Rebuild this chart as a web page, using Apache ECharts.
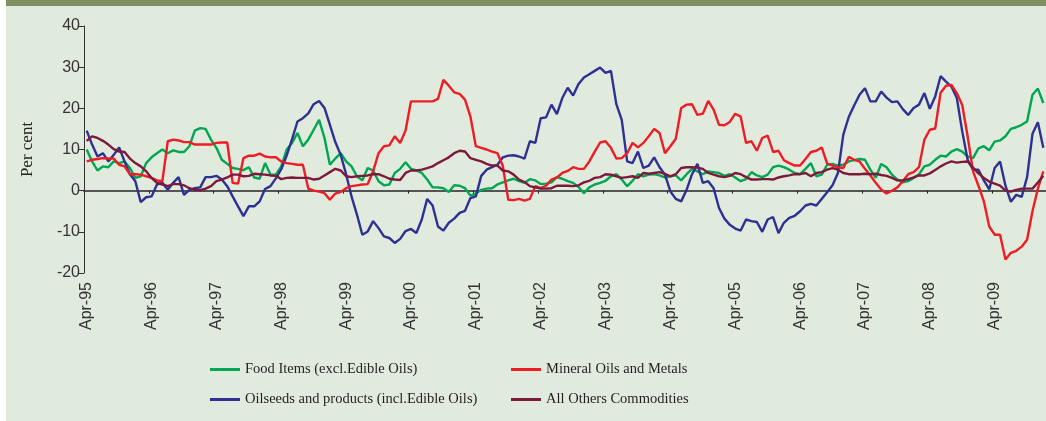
<!DOCTYPE html>
<html>
<head>
<meta charset="utf-8">
<script src="https://cdn.jsdelivr.net/npm/echarts@6/dist/echarts.min.js"></script>
<style>
  html, body { margin: 0; padding: 0; background: #fff; }
  #panel { position: absolute; left: 6px; top: 0; width: 1040px; height: 415px; background: #e0eadd; border-top: 6px solid #7f8f60; }
  #chart { position: absolute; left: 0; top: 0; width: 1046px; height: 421px; }
</style>
</head>
<body>
<div id="panel"></div>
<div id="chart"></div>
<script>
// months Apr-95 .. Jan-10
var monthNames = ['Jan', 'Feb', 'Mar', 'Apr', 'May', 'Jun', 'Jul', 'Aug', 'Sep', 'Oct', 'Nov', 'Dec'];
var categories = [];
for (var k = 0; k < 178; k++) {
  var m = (3 + k) % 12;
  var y = 1995 + Math.floor((3 + k) / 12);
  categories.push(monthNames[m] + '-' + String(y % 100).padStart(2, '0'));
}

var seriesNames = [
  'Food Items (excl.Edible Oils)',
  'Oilseeds and products (incl.Edible Oils)',
  'Mineral Oils and Metals',
  'All Others Commodities'
];

var foodItems = [
  10.0, 7.1, 4.9, 5.9, 5.7, 7.1, 6.7, 7.1, 5.5, 3.1,
  3.5, 6.7, 8.1, 9.1, 10.0, 9.1, 9.8, 9.4, 9.4, 10.8,
  14.6, 15.2, 15.0, 12.4, 10.4, 7.5, 6.5, 5.5, 5.3, 5.0,
  5.7, 3.2, 2.9, 6.7, 3.9, 3.9, 5.9, 10.0, 11.6, 14.0,
  10.8, 12.4, 14.8, 17.2, 12.8, 6.3, 7.8, 9.1, 7.1, 5.9,
  3.5, 2.5, 5.5, 4.9, 2.3, 1.3, 1.5, 4.3, 5.3, 6.9,
  5.3, 4.9, 4.3, 2.7, 0.8, 0.8, 0.6, -0.3, 1.3, 1.2,
  0.6, -1.2, -0.7, 0.2, 0.5, 0.6, 1.5, 2.0, 2.5, 2.9,
  2.3, 1.9, 2.8, 2.5, 1.6, 1.7, 2.0, 3.3, 2.9, 2.3,
  1.9, 0.9, -0.6, 0.8, 1.5, 1.9, 2.4, 3.5, 4.0, 2.7,
  1.1, 2.4, 4.0, 3.5, 3.9, 4.0, 3.7, 3.2, 3.5, 3.7,
  2.5, 4.0, 5.3, 4.7, 4.0, 4.7, 4.5, 4.3, 3.6, 4.0,
  3.2, 2.3, 2.8, 4.5, 3.7, 3.3, 3.9, 5.7, 6.1, 5.7,
  5.1, 4.3, 4.0, 5.3, 6.7, 3.5, 3.9, 6.3, 6.5, 6.1,
  6.3, 7.1, 7.4, 7.7, 7.5, 5.1, 3.1, 6.5, 5.7, 3.9,
  2.7, 2.0, 2.3, 3.1, 4.0, 5.9, 6.3, 7.5, 8.5, 8.3,
  9.5, 10.1, 9.5, 8.3, 7.9, 10.3, 10.8, 9.8, 11.9, 12.2,
  13.2, 15.0, 15.4, 16.0, 16.8, 23.3, 24.8, 21.3
];

var oilseeds = [
  14.6, 11.2, 8.3, 9.1, 7.1, 8.7, 10.5, 7.1, 4.0, 2.3,
  -2.8, -1.6, -1.4, 1.5, 1.9, 0.2, 1.9, 3.3, -1.0, 0.2,
  0.6, 0.8, 3.3, 3.3, 3.6, 2.7, 1.1, -1.4, -3.8, -6.2,
  -3.8, -3.8, -2.6, 0.4, 1.1, 3.0, 5.2, 8.5, 12.5, 16.8,
  17.6, 18.8, 21.0, 21.8, 20.1, 16.0, 11.8, 8.7, 4.0, -1.4,
  -5.8, -10.7, -9.9, -7.4, -9.1, -11.1, -11.5, -12.7, -11.7, -9.8,
  -9.3, -10.3, -7.0, -2.0, -3.6, -8.7, -9.7, -7.8, -6.8, -5.4,
  -4.9, -1.8, -1.4, 3.6, 5.1, 5.7, 6.3, 8.1, 8.5, 8.6,
  8.3, 7.8, 12.0, 11.6, 17.6, 17.8, 20.9, 18.6, 22.5, 25.0,
  23.1, 25.9, 27.5, 28.3, 29.1, 29.9, 28.6, 29.1, 21.0, 17.2,
  7.1, 6.7, 9.5, 5.5, 6.1, 8.1, 5.7, 3.9, -0.2, -2.0,
  -2.6, 0.2, 4.0, 6.5, 1.9, 2.3, 0.6, -4.2, -6.8, -8.3,
  -9.2, -9.7, -7.0, -7.4, -7.6, -10.0, -7.0, -6.4, -10.3, -7.8,
  -6.6, -6.1, -5.0, -3.6, -3.2, -3.6, -2.0, -0.4, 1.3, 4.3,
  13.6, 17.9, 20.7, 23.3, 24.9, 21.7, 21.7, 24.1, 22.6, 21.5,
  21.7, 19.8, 18.4, 20.1, 20.9, 23.7, 19.9, 22.9, 27.8, 26.5,
  25.3, 22.5, 14.4, 7.5, 5.1, 5.1, 2.5, 0.3, 5.5, 7.1,
  1.2, -2.7, -1.0, -1.5, 3.3, 13.8, 16.6, 10.4
];

var mineralOils = [
  7.1, 7.5, 7.7, 7.9, 7.8, 7.8, 6.3, 5.9, 4.0, 4.0,
  3.9, 3.5, 3.1, 2.5, 2.3, 12.0, 12.4, 12.2, 11.8, 11.8,
  11.2, 11.2, 11.2, 11.2, 11.6, 11.7, 11.7, 1.9, 1.7, 7.9,
  8.5, 8.5, 9.0, 8.3, 8.1, 8.1, 7.1, 6.7, 6.5, 6.3,
  6.3, 0.5, 0.0, -0.2, -0.6, -2.2, -0.7, -0.3, 0.6, 1.1,
  1.3, 1.5, 1.6, 4.7, 9.1, 10.8, 11.0, 13.2, 11.6, 14.6,
  21.7, 21.7, 21.7, 21.7, 21.7, 22.3, 26.9, 25.5, 23.9, 23.5,
  22.1, 18.0, 10.8, 10.4, 10.0, 9.5, 9.1, 6.0, -2.2, -2.3,
  -2.0, -2.4, -2.0, 1.1, 0.6, 1.2, 2.7, 3.2, 4.3, 4.8,
  5.7, 5.3, 5.3, 7.1, 9.5, 11.7, 12.0, 10.4, 7.8, 7.9,
  9.1, 11.6, 10.5, 11.6, 13.2, 15.0, 14.0, 9.1, 10.8, 12.6,
  20.1, 20.9, 21.0, 18.4, 18.7, 21.8, 19.7, 16.0, 15.9, 16.7,
  18.7, 18.0, 11.6, 12.0, 9.7, 12.8, 13.4, 9.4, 9.7, 7.4,
  6.7, 6.1, 6.1, 7.7, 9.4, 9.7, 10.5, 6.6, 6.1, 5.7,
  5.5, 8.2, 7.5, 7.1, 5.3, 3.7, 1.9, 0.3, -0.7, 0.0,
  0.8, 2.3, 4.0, 4.5, 5.7, 12.4, 14.8, 15.1, 23.8, 25.5,
  25.7, 23.7, 20.8, 13.2, 4.7, 1.2, -2.6, -8.7, -10.7, -10.7,
  -16.7, -15.1, -14.6, -13.6, -11.9, -5.0, 0.5, 4.7
];

var allOthers = [
  12.1, 13.2, 12.8, 12.1, 11.2, 10.1, 9.5, 9.4, 7.8, 6.7,
  5.9, 4.7, 3.1, 1.9, 1.5, 1.1, 1.6, 1.6, 1.3, 0.6,
  0.2, 0.1, 0.5, 1.1, 2.3, 2.7, 3.2, 3.9, 3.9, 3.5,
  3.6, 4.1, 4.0, 3.9, 3.7, 3.6, 2.8, 3.1, 3.2, 3.1,
  3.1, 3.1, 2.7, 2.9, 3.7, 4.5, 5.3, 4.9, 3.5, 3.3,
  3.5, 3.6, 3.7, 4.0, 4.0, 3.5, 2.9, 2.7, 2.6, 4.3,
  4.9, 4.9, 5.1, 5.5, 5.9, 6.7, 7.4, 8.1, 9.1, 9.7,
  9.5, 7.9, 7.5, 7.1, 6.5, 6.1, 6.1, 4.9, 4.7, 3.9,
  2.7, 2.1, 1.1, 0.8, 0.5, 0.5, 0.6, 1.2, 1.2, 1.2,
  1.1, 1.3, 2.0, 2.4, 3.1, 3.3, 4.0, 3.9, 3.5, 3.1,
  3.3, 3.5, 3.1, 4.3, 4.1, 4.3, 4.5, 4.1, 3.5, 4.0,
  5.5, 5.7, 5.7, 5.6, 5.3, 4.3, 3.9, 3.5, 3.3, 3.6,
  4.3, 4.0, 3.3, 2.7, 2.7, 2.8, 2.8, 2.7, 3.2, 3.5,
  3.7, 4.0, 4.0, 4.3, 3.5, 4.3, 4.5, 5.1, 5.5, 5.1,
  4.3, 4.0, 4.0, 4.0, 4.1, 4.0, 4.1, 3.8, 3.6, 3.1,
  2.5, 2.5, 2.8, 3.2, 3.7, 3.7, 4.2, 5.0, 5.9, 6.6,
  7.1, 6.8, 7.0, 7.1, 5.6, 4.2, 3.1, 2.2, 1.7, 1.2,
  0.0, -0.2, 0.2, 0.5, 0.5, 0.5, 2.0, 3.6
];

var seriesColors = ['#00a651', '#2e3192', '#ee1c25', '#7d1a3c'];

[foodItems, oilseeds, mineralOils, allOthers].forEach(function (arr, i) {
  if (arr.length !== categories.length) {
    throw new Error('series ' + i + ' has ' + arr.length + ' values');
  }
});

var sansFont = 'Liberation Sans';
var serifFont = 'Liberation Serif';

function makeLine(name, data, color) {
  return {
    name: name,
    type: 'line',
    data: data,
    symbol: 'none',
    smooth: false,
    animation: false,
    lineStyle: { color: color, width: 2.4 },
    itemStyle: { color: color }
  };
}

function makeLegend(name, left, top) {
  return {
    data: [name],
    left: left,
    top: top,
    padding: 0,
    icon: 'rect',
    itemWidth: 30,
    itemHeight: 3,
    selectedMode: false,
    textStyle: { fontFamily: serifFont, fontSize: 14.5, color: '#231f20' }
  };
}

var myChart = echarts.init(document.getElementById('chart'), null, { renderer: 'canvas' });

var option = {
  backgroundColor: 'transparent',
  animation: false,
  grid: { left: 84, top: 26, width: 963, height: 247 },
  legend: [
    makeLegend(seriesNames[0], 210, 362),
    makeLegend(seriesNames[1], 210, 392),
    makeLegend(seriesNames[2], 511, 362),
    makeLegend(seriesNames[3], 511, 392)
  ],
  xAxis: [
    {
      type: 'category',
      data: categories,
      boundaryGap: true,
      axisLine: { onZero: true, lineStyle: { color: '#555', width: 2 } },
      axisTick: { show: true, interval: 11, length: 3, lineStyle: { color: '#222', width: 1 } },
      axisLabel: { show: false },
      splitLine: { show: false }
    },
    {
      type: 'category',
      data: categories,
      boundaryGap: true,
      position: 'bottom',
      axisLine: { show: false, onZero: false },
      axisTick: { show: false },
      axisLabel: {
        interval: 11,
        rotate: 90,
        margin: 9,
        fontFamily: sansFont,
        fontSize: 16,
        color: '#333'
      },
      splitLine: { show: false }
    }
  ],
  yAxis: {
    type: 'value',
    min: -20,
    max: 40,
    interval: 10,
    name: 'Per cent',
    nameLocation: 'middle',
    nameGap: 48,
    nameTextStyle: { fontFamily: serifFont, fontSize: 17, color: '#222' },
    axisLine: { show: true, lineStyle: { color: '#333', width: 1 } },
    axisTick: { show: true, length: 5, lineStyle: { color: '#333' } },
    axisLabel: { fontFamily: sansFont, fontSize: 16, color: '#333', margin: 4 },
    splitLine: { show: false }
  },
  series: [
    makeLine(seriesNames[0], foodItems, seriesColors[0]),
    makeLine(seriesNames[1], oilseeds, seriesColors[1]),
    makeLine(seriesNames[2], mineralOils, seriesColors[2]),
    makeLine(seriesNames[3], allOthers, seriesColors[3])
  ]
};

myChart.setOption(option);
window.addEventListener('resize', function () {
  myChart.resize();
});
</script>
</body>
</html>
